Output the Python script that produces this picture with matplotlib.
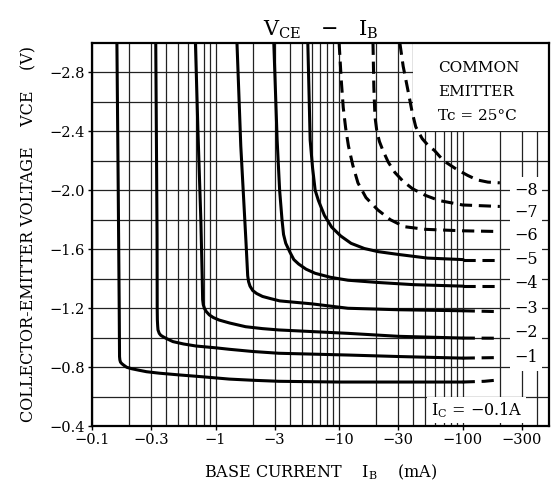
import matplotlib
matplotlib.use("Agg")
import matplotlib.pyplot as plt
from matplotlib.patches import Rectangle
from matplotlib.ticker import FixedLocator, FuncFormatter

plt.rcParams['font.family'] = ['DejaVu Serif']
plt.rcParams['mathtext.fontset'] = 'dejavuserif'
plt.rcParams['mathtext.default'] = 'regular'

# base current |IB| (mA) and collector-emitter voltage |VCE| (V), one pair per IC curve
ib_01 = [0.159, 0.163, 0.166, 0.167, 0.168, 0.170, 0.174, 0.18, 0.191, 0.21, 0.24, 0.276,
         0.35, 0.511, 0.8, 1.29, 2, 3.25, 10, 30, 100, 150, 200]
vce_01 = [3.0, 2.0, 1.2, 0.872, 0.85, 0.835, 0.825, 0.815, 0.80, 0.79, 0.78, 0.77,
          0.76, 0.748, 0.735, 0.72, 0.712, 0.705, 0.70, 0.70, 0.70, 0.705, 0.715]
ib_1 = [0.328, 0.336, 0.337, 0.338, 0.340, 0.342, 0.350, 0.36, 0.376, 0.40, 0.452, 0.55,
        0.696, 1.0, 1.29, 2, 3.25, 11.8, 30, 100, 200]
vce_1 = [3.0, 1.7, 1.2, 1.12, 1.08, 1.053, 1.03, 1.017, 1.007, 0.995, 0.974, 0.958,
         0.944, 0.932, 0.922, 0.907, 0.895, 0.883, 0.873, 0.862, 0.866]
ib_2 = [0.687, 0.72, 0.76, 0.78, 0.786, 0.795, 0.812, 0.84, 0.89, 0.96, 1.07, 1.3, 1.75,
        2.4, 3.25, 11.8, 30, 100, 200]
vce_2 = [3.0, 2.4, 1.8, 1.4, 1.258, 1.225, 1.2, 1.178, 1.155, 1.137, 1.12, 1.1, 1.075,
         1.062, 1.053, 1.03, 1.01, 0.998, 0.997]
ib_3 = [1.49, 1.6, 1.76, 1.8, 1.82, 1.85, 1.9, 2.0, 2.15, 2.4, 2.8, 3.3, 6, 11.8, 30, 100, 200]
vce_3 = [3.0, 2.3, 1.66, 1.5, 1.42, 1.38, 1.35, 1.32, 1.30, 1.28, 1.265, 1.25, 1.23, 1.2,
         1.19, 1.183, 1.177]
ib_4 = [2.96, 3.15, 3.3, 3.45, 3.55, 3.7, 4.0, 4.3, 4.7, 5.4, 6.4, 8.5, 11.8, 20.4, 40, 100, 200]
vce_4 = [3.0, 2.34, 2.0, 1.8, 1.7, 1.64, 1.58, 1.53, 1.50, 1.465, 1.437, 1.41, 1.39, 1.375,
         1.36, 1.35, 1.35]
ib_5 = [5.58, 5.83, 6.1, 6.4, 6.8, 7.6, 8.7, 10.3, 12.5, 16, 20.6, 30, 52, 100, 200]
vce_5 = [3.0, 2.34, 2.15, 2.0, 1.93, 1.83, 1.75, 1.69, 1.64, 1.605, 1.584, 1.565, 1.54, 1.53, 1.53]
ib_6 = [10.0, 10.4, 10.8, 11.3, 11.9, 12.9, 14.2, 16.5, 20.6, 26, 33.6, 50, 70, 100, 200]
vce_6 = [3.0, 2.75, 2.56, 2.42, 2.3, 2.17, 2.05, 1.95, 1.866, 1.8, 1.753, 1.735, 1.73, 1.725, 1.72]
ib_7 = [18.8, 19.1, 19.5, 20.2, 21.2, 22.6, 25, 28.3, 33, 39.3, 50, 64.6, 100, 200]
vce_7 = [3.0, 2.7, 2.5, 2.4, 2.33, 2.27, 2.19, 2.12, 2.06, 2.01, 1.965, 1.93, 1.90, 1.89]
ib_8 = [31, 33, 36, 39, 41.7, 47, 53, 59, 70, 90, 110, 131, 160, 200]
vce_8 = [3.0, 2.84, 2.68, 2.53, 2.43, 2.35, 2.3, 2.27, 2.2, 2.14, 2.1, 2.07, 2.055, 2.05]

curve_labels = ['−1', '−2', '−3', '−4', '−5', '−6', '−7', '−8']
label_v = [0.865, 1.035, 1.20, 1.37, 1.53, 1.69, 1.85, 2.0]

x_ticks = [0.1, 0.3, 1, 3, 10, 30, 100, 300]
x_ticklabels = ['−0.1', '−0.3', '−1', '−3', '−10', '−30', '−100', '−300']
y_ticks = [0.4, 0.8, 1.2, 1.6, 2.0, 2.4, 2.8]

fig = plt.figure(figsize=(5.53, 4.9), dpi=100)
ax = fig.add_axes([0.1664, 0.130, 0.8264, 0.7829])

ax.set_xscale('log')
ax.set_xlim(0.1, 500)
ax.set_ylim(0.4, 3.0)

# measured curves: solid up to 100 mA, dashed beyond; IC = -6..-8 are all dashed
solid_curves = [(ib_01, vce_01), (ib_1, vce_1), (ib_2, vce_2), (ib_3, vce_3),
                (ib_4, vce_4), (ib_5, vce_5)]
dashed_curves = [(ib_6, vce_6), (ib_7, vce_7), (ib_8, vce_8)]
dash = (0, (4.0, 2.2))
for xs, ys in solid_curves:
    k = xs.index(100)
    ax.plot(xs[:k + 1], ys[:k + 1], color='black', lw=2.2, zorder=4,
            solid_joinstyle='round')
    ax.plot(xs[k:], ys[k:], color='black', lw=2.2, linestyle=dash, zorder=4)
for xs, ys in dashed_curves:
    ax.plot(xs, ys, color='black', lw=2.2, linestyle=dash, zorder=4)

# grid
ax.xaxis.set_major_locator(FixedLocator(x_ticks))
minor_x = [m * d for d in (0.1, 1, 10, 100) for m in range(1, 10)
           if m * d not in x_ticks and m * d <= 500]
ax.xaxis.set_minor_locator(FixedLocator(minor_x))
ax.set_xticklabels(x_ticklabels)
ax.xaxis.set_minor_formatter(FuncFormatter(lambda v, p: ''))
ax.set_yticks(y_ticks)
ax.set_yticks([0.6, 1.0, 1.4, 1.8, 2.2, 2.6], minor=True)
ax.yaxis.set_major_formatter(FuncFormatter(lambda v, p: '−%.1f' % v))
ax.grid(True, which='both', color='#222222', lw=0.9, zorder=1)

ax.tick_params(which='major', length=3, width=1, labelsize=10.5, pad=2)
ax.tick_params(which='minor', length=0)
for s in ax.spines.values():
    s.set_linewidth(1.6)
    s.set_zorder(6)

# white box with the test conditions
ax.add_patch(Rectangle((40, 2.4), 460, 0.6, facecolor='white', edgecolor='none', zorder=2))
ax.text(63, 2.83, 'COMMON', fontsize=11, va='center', ha='left', zorder=5)
ax.text(63, 2.665, 'EMITTER', fontsize=11, va='center', ha='left', zorder=5)
ax.text(63, 2.50, 'Tc = 25°C', fontsize=11, va='center', ha='left', zorder=5)

# curve labels
for lab, v in zip(curve_labels, label_v):
    ax.text(262, v, lab, fontsize=11.5, va='center', ha='left', zorder=5,
            bbox=dict(facecolor='white', edgecolor='none', pad=3.2))
ax.text(55, 0.51, 'I$_C$ = −0.1A', fontsize=11.5, va='center', ha='left', zorder=5,
        bbox=dict(facecolor='white', edgecolor='none', pad=2.5))

ax.set_title('V$_{CE}$   −   I$_B$', fontsize=15, pad=5)
ax.set_xlabel('BASE CURRENT    I$_B$    (mA)', fontsize=11.5, labelpad=11)
ax.set_ylabel('COLLECTOR-EMITTER VOLTAGE    VCE    (V)', fontsize=11.5, labelpad=9)

fig.savefig('out.png', dpi=100)
